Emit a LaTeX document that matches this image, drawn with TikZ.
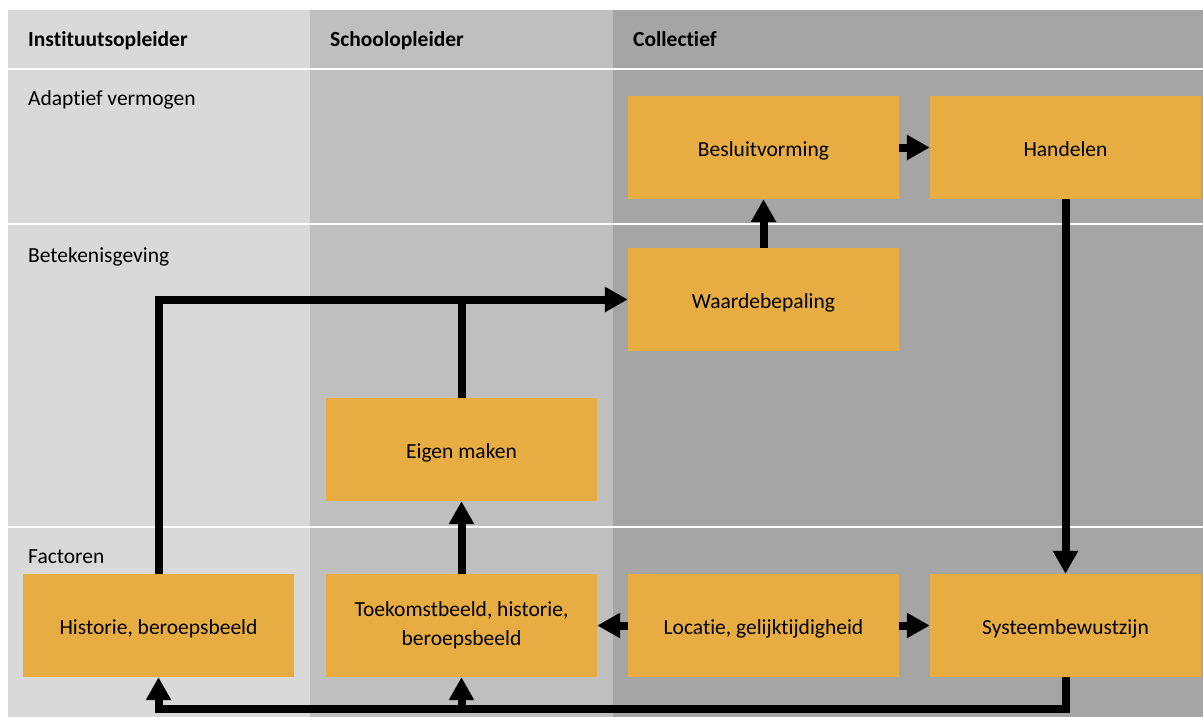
\documentclass[tikz,border=0pt]{standalone}
\usepackage{fontspec}
\setmainfont{Carlito}[Ligatures=NoCommon]
\usetikzlibrary{arrows.meta}
\definecolor{colA}{HTML}{D9D9D9}
\definecolor{colB}{HTML}{BFBFBF}
\definecolor{colC}{HTML}{A5A5A5}
\definecolor{boxfill}{HTML}{E7AD42}
\tikzset{
  stage/.style={fill=boxfill, draw=none, minimum width=271pt, minimum height=103pt,
    inner sep=0pt, align=center, font=\fontsize{21.5}{29}\selectfont},
  oneline/.style={stage, text height=18pt, text depth=1pt},
  header/.style={anchor=base west, inner sep=0pt, font=\fontsize{21.5}{26}\selectfont\bfseries},
  rowlabel/.style={anchor=base west, inner sep=0pt, font=\fontsize{21.5}{26}\selectfont},
  flow/.style={line width=8pt, draw=black},
  flowarrow/.style={flow, -{Triangle[length=23pt,width=24pt]}},
  divider/.style={draw=white, line width=2.6pt}
}
\begin{document}
\begin{tikzpicture}[x=1pt, y=-1pt]
  \useasboundingbox (0,0) rectangle (1203,717);
  \fill[white] (0,0) rectangle (1203,717);
  % column bands
  \fill[colA] (8,10) rectangle (310,717);
  \fill[colB] (310,10) rectangle (613,717);
  \fill[colC] (613,10) rectangle (1203,717);
  % row dividers
  \draw[divider] (8,69) -- (1203,69);
  \draw[divider] (8,224) -- (1203,224);
  \draw[divider] (8,527) -- (1203,527);
  % column headers
  \node[header] (h1) at (28,47) {Instituutsopleider};
  \node[header] (h2) at (330,47) {Schoolopleider};
  \node[header] (h3) at (633,47) {Collectief};
  % row labels
  \node[rowlabel] (r1) at (28,106) {Adaptief vermogen};
  \node[rowlabel] (r2) at (28,262) {Betekenisgeving};
  \node[rowlabel] (r3) at (28,563) {Factoren};
  % stages
  \node[oneline] (besl) at (763.5,147.5) {Besluitvorming};
  \node[oneline] (hand) at (1065.5,147.5) {Handelen};
  \node[oneline] (waar) at (763.5,299.5) {Waardebepaling};
  \node[oneline] (eigen) at (461.5,449.5) {Eigen maken};
  \node[oneline] (hist) at (158.5,625.5) {Historie, beroepsbeeld};
  \node[stage] (toek) at (461.5,625.5) {Toekomstbeeld, historie,\\beroepsbeeld};
  \node[oneline] (loc) at (763.5,625.5) {Locatie, gelijktijdigheid};
  \node[oneline] (sys) at (1065.5,625.5) {Systeembewustzijn};
  % connectors
  \draw[flowarrow] (besl.east) -- (hand.west);
  \draw[flowarrow] (waar.north) -- (besl.south);
  \draw[flowarrow] (hand.south) -- (sys.north);
  \draw[flowarrow] (hist.north) |- (waar.west);
  \draw[flow] (eigen.north) -- (eigen.north |- waar.west);
  \draw[flowarrow] (toek.north) -- (eigen.south);
  \draw[flowarrow] (loc.west) -- (toek.east);
  \draw[flowarrow] (loc.east) -- (sys.west);
  \coordinate (ret) at (1065.5,709);
  \draw[flowarrow] (sys.south) -- (ret) -| (hist.south);
  \draw[flowarrow] (toek.south |- ret) -- (toek.south);
\end{tikzpicture}
\end{document}
